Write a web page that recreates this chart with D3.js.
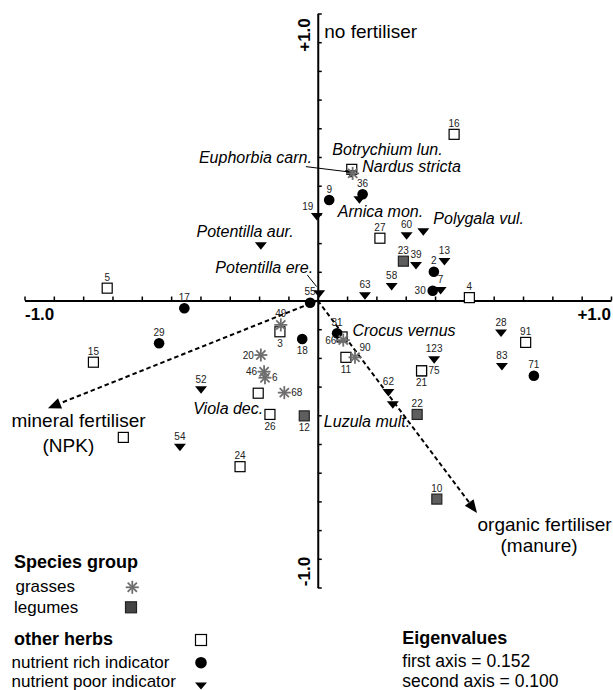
<!DOCTYPE html>
<html lang="en">
<head>
<meta charset="UTF-8">
<title>Ordination of species and fertiliser</title>
<style>
  body { margin: 0; background: #fff; }
  svg text { font-family: "Liberation Sans", Arial, sans-serif; fill: #000; }
  .axis path, .axis line { stroke: #000; fill: none; }
  .num { font-size: 10px; fill: #222; }
  .sp { font-size: 16px; font-style: italic; }
</style>
</head>
<body>
<script src="https://d3js.org/d3.v7.min.js"></script>
<script>
var width = 613, height = 690;

// axis ticks (every 0.1) and the labelled end values
var axisTicks = d3.range(-10, 11).map(function(d){ return d / 10; });
var tickLabels = ["-1.0", "+1.0"];

// other herbs (open squares)
var herbs = [
  {id:"16", x:0.465, y:0.579},
  {id:"", name:"Botrychium lun.", x:0.116, y:0.457},
  {id:"27", x:0.212, y:0.217},
  {id:"5", x:-0.718, y:0.043},
  {id:"4", x:0.517, y:0.010},
  {id:"3", x:-0.129, y:-0.109},
  {id:"", name:"Crocus vernus", x:0.083, y:-0.127},
  {id:"15", x:-0.765, y:-0.215},
  {id:"91", x:0.709, y:-0.146},
  {id:"11", x:0.096, y:-0.198},
  {id:"21", x:0.354, y:-0.245},
  {id:"75", x:0.354, y:-0.245},
  {id:"", name:"Viola dec.", x:-0.203, y:-0.323},
  {id:"26", x:-0.163, y:-0.397},
  {id:"", x:-0.663, y:-0.477},
  {id:"24", x:-0.265, y:-0.579}
];

// legumes (dark squares)
var legumes = [
  {id:"23", x:0.292, y:0.137},
  {id:"12", x:-0.046, y:-0.402},
  {id:"22", x:0.339, y:-0.397},
  {id:"10", x:0.406, y:-0.692}
];

// nutrient rich indicators (circles)
var richHerbs = [
  {id:"9", x:0.039, y:0.350},
  {id:"36", x:0.153, y:0.370},
  {id:"17", x:-0.455, y:-0.027},
  {id:"55", x:-0.026, y:-0.008},
  {id:"29", x:-0.541, y:-0.149},
  {id:"18", x:-0.053, y:-0.134},
  {id:"2", x:0.396, y:0.100},
  {id:"30", x:0.392, y:0.034},
  {id:"31", x:0.066, y:-0.114},
  {id:"71", x:0.737, y:-0.262}
];

// nutrient poor indicators (down triangles)
var poorHerbs = [
  {id:"", name:"Euphorbia carn.", x:0.113, y:0.441},
  {id:"", name:"Arnica mon.", x:0.142, y:0.350},
  {id:"19", x:-0.003, y:0.292},
  {id:"", name:"Potentilla aur.", x:-0.194, y:0.190},
  {id:"", name:"Potentilla ere.", x:0.005, y:0.023},
  {id:"60", x:0.303, y:0.225},
  {id:"", name:"Polygala vul.", x:0.360, y:0.239},
  {id:"39", x:0.335, y:0.121},
  {id:"13", x:0.432, y:0.135},
  {id:"58", x:0.252, y:0.048},
  {id:"63", x:0.161, y:0.016},
  {id:"7", x:0.419, y:0.034},
  {id:"28", x:0.625, y:-0.114},
  {id:"83", x:0.628, y:-0.231},
  {id:"123", x:0.397, y:-0.207},
  {id:"62", x:0.241, y:-0.321},
  {id:"", name:"Luzula mult.", x:0.256, y:-0.364},
  {id:"52", x:-0.398, y:-0.312},
  {id:"54", x:-0.470, y:-0.512}
];

// grasses (asterisks)
var grasses = [
  {id:"", name:"Nardus stricta", x:0.119, y:0.443},
  {id:"49", x:-0.126, y:-0.085},
  {id:"20", x:-0.194, y:-0.190},
  {id:"46", x:-0.183, y:-0.248},
  {id:"6", x:-0.180, y:-0.269},
  {id:"68", x:-0.114, y:-0.321},
  {id:"66", x:0.087, y:-0.138},
  {id:"90", x:0.127, y:-0.198}
];

// environmental arrows
var arrows = [
  {name:"mineral fertiliser", sub:"(NPK)", x:-0.920, y:-0.375},
  {name:"organic fertiliser", sub:"(manure)", x:0.543, y:-0.740}
];

var legendGroups = ["grasses", "legumes"];
var legendHerbs = ["nutrient rich indicator", "nutrient poor indicator"];
var eigenvalues = [0.152, 0.100];

var x = d3.scaleLinear().domain([-1, 1]).range([24.5, 611]);
var y = d3.scaleLinear().domain([-1, 1]).range([587.5, 13.5]);

var svg = d3.select("body").append("svg")
  .attr("width", width).attr("height", height);

// axes through the origin
svg.append("g").attr("class", "axis")
  .attr("transform", "translate(0," + y(0) + ")")
  .call(d3.axisTop(x).tickValues(axisTicks).tickSize(4).tickSizeOuter(0).tickFormat(""));
svg.append("g").attr("class", "axis")
  .attr("transform", "translate(" + x(0) + ",0)")
  .call(d3.axisRight(y).tickValues(axisTicks).tickSize(4).tickSizeOuter(0).tickFormat(""));
svg.selectAll(".axis path.domain").attr("stroke-width", 2);
svg.selectAll(".axis .tick line").attr("stroke-width", 1.5);

svg.append("text").attr("x", x(-1) + 0.5).attr("y", y(0) + 19.5)
  .style("font-size", "17px").style("font-weight", "bold").text(tickLabels[0]);
svg.append("text").attr("x", x(1)).attr("y", y(0) + 19).attr("text-anchor", "end")
  .style("font-size", "17px").style("font-weight", "bold").text(tickLabels[1]);
svg.append("text").attr("text-anchor", "middle")
  .attr("transform", "translate(" + (x(0) - 7.5) + "," + (y(1) + 21.5) + ") rotate(-90)")
  .style("font-size", "17px").style("font-weight", "bold").text(tickLabels[1]);
svg.append("text").attr("text-anchor", "middle")
  .attr("transform", "translate(" + (x(0) - 7.5) + "," + (y(-1) - 16) + ") rotate(-90)")
  .style("font-size", "17px").style("font-weight", "bold").text(tickLabels[0]);

svg.append("text").attr("x", x(0) + 6.5).attr("y", y(1) + 24)
  .style("font-size", "19px").text("no fertiliser");

// dashed arrows from origin
arrows.forEach(function(a){
  var x0 = x(0), y0 = y(0), x1 = x(a.x), y1 = y(a.y);
  var ang = Math.atan2(y1 - y0, x1 - x0);
  var hl = 13, hw = 5.5;
  var bx = x1 - hl * Math.cos(ang), by = y1 - hl * Math.sin(ang);
  svg.append("line")
    .attr("x1", x0).attr("y1", y0).attr("x2", bx).attr("y2", by)
    .attr("stroke", "#000").attr("stroke-width", 2).attr("stroke-dasharray", "4.5,3");
  var px = -Math.sin(ang), py = Math.cos(ang);
  svg.append("path")
    .attr("d", "M" + x1 + "," + y1 + "L" + (bx + hw * px) + "," + (by + hw * py) +
               "L" + (bx - hw * px) + "," + (by - hw * py) + "Z")
    .attr("fill", "#000");
});
// arrow captions
svg.append("text").attr("x", 11.5).attr("y", 426.7).style("font-size", "19px").text(arrows[0].name);
svg.append("text").attr("x", 42.5).attr("y", 451.7).style("font-size", "19px").text(arrows[0].sub);
svg.append("text").attr("x", 477.5).attr("y", 531).style("font-size", "19px").text(arrows[1].name);
svg.append("text").attr("x", 500.5).attr("y", 551.7).style("font-size", "19px").text(arrows[1].sub);

// symbol painters
function drawSquare(g, cx, cy, s, fill, stroke) {
  g.append("rect").attr("x", cx - s / 2).attr("y", cy - s / 2)
    .attr("width", s).attr("height", s)
    .attr("fill", fill).attr("stroke", stroke).attr("stroke-width", 1.2);
}
function drawCircle(g, cx, cy, r) {
  g.append("circle").attr("cx", cx).attr("cy", cy).attr("r", r).attr("fill", "#000");
}
function drawTri(g, cx, cy, w, h) {
  g.append("path")
    .attr("d", "M" + (cx - w / 2) + "," + (cy - h / 2) + "L" + (cx + w / 2) + "," + (cy - h / 2) +
               "L" + cx + "," + (cy + h / 2) + "Z")
    .attr("fill", "#000");
}
function drawStar(g, cx, cy, r) {
  [0, 45, 90, 135].forEach(function(a){
    var rad = a * Math.PI / 180, dx = r * Math.cos(rad), dy = r * Math.sin(rad);
    g.append("line").attr("x1", cx - dx).attr("y1", cy - dy).attr("x2", cx + dx).attr("y2", cy + dy)
      .attr("stroke", "#6e6e6e").attr("stroke-width", 1.8);
  });
}

var pts = svg.append("g");
herbs.forEach(function(d){ drawSquare(pts, x(d.x), y(d.y), 10, "#fff", "#000"); });
legumes.forEach(function(d){ drawSquare(pts, x(d.x), y(d.y), 10, "#5e5e5e", "#222"); });
richHerbs.forEach(function(d){ drawCircle(pts, x(d.x), y(d.y), 5.3); });
poorHerbs.forEach(function(d){ drawTri(pts, x(d.x), y(d.y), 12, 7.5); });
grasses.forEach(function(d){ drawStar(pts, x(d.x), y(d.y), 6.5); });

// number labels
var labelSide = {"3":"s","18":"s","26":"s","12":"s","11":"s","21":"s",
                 "20":"w","46":"w","30":"w","66":"w",
                 "6":"e","68":"e","75":"e","19":"nw","90":"ne"};
var sideOffset = {
  n:  {dx:0,  dy:-7.5, anchor:"middle"},
  s:  {dx:0,  dy:15.5, anchor:"middle"},
  w:  {dx:-7, dy:3.5,  anchor:"end"},
  e:  {dx:7,  dy:3.5,  anchor:"start"},
  nw: {dx:-9, dy:-6.5, anchor:"middle"},
  ne: {dx:10, dy:-6,   anchor:"middle"}
};
var allPts = herbs.concat(legumes, richHerbs, poorHerbs, grasses);
allPts.filter(function(d){ return d.id; }).forEach(function(d){
  var o = sideOffset[labelSide[d.id] || "n"];
  svg.append("text").attr("class", "num")
    .attr("x", x(d.x) + o.dx).attr("y", y(d.y) + o.dy)
    .attr("text-anchor", o.anchor).text(d.id);
});

// species name labels
var noteOffset = {
  "Euphorbia carn.": {dx:-39, dy:-11, anchor:"end", leader:[-45, -7.3, -2, -2]},
  "Botrychium lun.": {dx:-19.4, dy:-14, anchor:"start"},
  "Nardus stricta":  {dx:9.6, dy:-1.8, anchor:"start"},
  "Arnica mon.":     {dx:-21.6, dy:16.7, anchor:"start"},
  "Polygala vul.":   {dx:10, dy:-8, anchor:"start"},
  "Potentilla aur.": {dx:-64.3, dy:-9.3, anchor:"start"},
  "Potentilla ere.": {dx:-6, dy:-20.7, anchor:"end", leader:[-12, -19, -2.6, -7.3]},
  "Crocus vernus":   {dx:10.3, dy:-1.3, anchor:"start"},
  "Viola dec.":      {dx:5, dy:20.7, anchor:"end"},
  "Luzula mult.":    {dx:17.3, dy:21.7, anchor:"end"}
};
allPts.filter(function(d){ return d.name; }).forEach(function(d){
  var o = noteOffset[d.name], px = x(d.x), py = y(d.y);
  if (o.leader) {
    svg.append("line")
      .attr("x1", px + o.leader[0]).attr("y1", py + o.leader[1])
      .attr("x2", px + o.leader[2]).attr("y2", py + o.leader[3])
      .attr("stroke", "#000").attr("stroke-width", 1);
  }
  svg.append("text").attr("class", "sp")
    .attr("x", px + o.dx).attr("y", py + o.dy)
    .attr("text-anchor", o.anchor).text(d.name);
});

// legend
var lg = svg.append("g");
lg.append("text").attr("x", 14).attr("y", 567.7)
  .style("font-size", "18px").style("font-weight", "bold").text("Species group");
lg.append("text").attr("x", 15.5).attr("y", 591.7).style("font-size", "17px").text(legendGroups[0]);
drawStar(lg, 132.3, 587.3, 6.5);
lg.append("text").attr("x", 14).attr("y", 613.3).style("font-size", "17px").text(legendGroups[1]);
drawSquare(lg, 131, 607.3, 11, "#444", "#222");
lg.append("text").attr("x", 14).attr("y", 645)
  .style("font-size", "18px").style("font-weight", "bold").text("other herbs");
drawSquare(lg, 201, 640, 11, "#fff", "#000");
lg.append("text").attr("x", 11.5).attr("y", 667.7).style("font-size", "17px").text(legendHerbs[0]);
drawCircle(lg, 201, 662.7, 5.8);
lg.append("text").attr("x", 11.5).attr("y", 687).style("font-size", "17px").text(legendHerbs[1]);
drawTri(lg, 201, 686, 12, 7);

var eg = svg.append("g");
eg.append("text").attr("x", 402.3).attr("y", 644)
  .style("font-size", "18px").style("font-weight", "bold").text("Eigenvalues");
eg.append("text").attr("x", 402.3).attr("y", 666.7).style("font-size", "17.5px")
  .text("first axis = " + eigenvalues[0].toFixed(3));
eg.append("text").attr("x", 402.3).attr("y", 686.5).style("font-size", "17.5px")
  .text("second axis = " + eigenvalues[1].toFixed(3));
</script>
</body>
</html>
